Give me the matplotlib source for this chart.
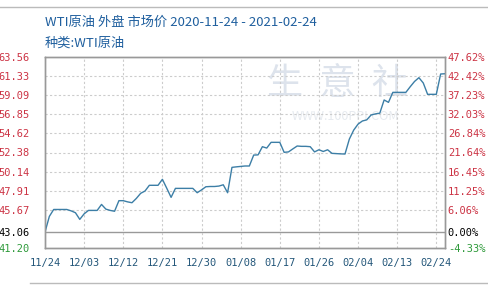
import matplotlib
matplotlib.use('Agg')
import matplotlib.pyplot as plt
import matplotlib.dates as mdates
from matplotlib.lines import Line2D
import numpy as np
import datetime as dt

plt.rcParams['font.family'] = ['Noto Sans CJK SC', 'DejaVu Sans']

# daily price, 2020-11-24 .. 2021-02-24
start = dt.date(2020, 11, 24)
prices = [
    43.06, 44.90, 45.71, 45.71, 45.71, 45.71, 45.55, 45.33, 44.55, 45.20,
    45.60, 45.60, 45.60, 46.30, 45.75, 45.60, 45.50, 46.74, 46.74, 46.60,
    46.50, 47.00, 47.60, 47.87, 48.54, 48.54, 48.54, 49.24, 48.20, 47.13,
    48.18, 48.18, 48.18, 48.18, 48.18, 47.67, 48.00, 48.37, 48.40, 48.40,
    48.45, 48.60, 47.67, 50.64, 50.70, 50.75, 50.80, 50.80, 52.08, 52.10,
    53.06, 52.90, 53.57, 53.57, 53.57, 52.40, 52.45, 52.80, 53.14, 53.10,
    53.10, 53.06, 52.45, 52.70, 52.50, 52.70, 52.28, 52.25, 52.22, 52.20,
    53.95, 55.00, 55.70, 56.07, 56.20, 56.77, 56.90, 56.98, 58.53, 58.25,
    59.42, 59.42, 59.42, 59.42, 60.08, 60.70, 61.14, 60.52, 59.19, 59.19,
    59.19, 61.57, 61.60,
]
dates = [start + dt.timedelta(days=i) for i in range(len(prices))]

base = 43.06
yticks = [63.56, 61.33, 59.09, 56.85, 54.62, 52.38, 50.14, 47.91, 45.67, 43.06, 41.20]
pct_labels = ['47.62%', '42.42%', '37.23%', '32.03%', '26.84%', '21.64%',
              '16.45%', '11.25%', '6.06%', '0.00%', '-4.33%']
xtick_labels = ['11/24', '12/03', '12/12', '12/21', '12/30', '01/08',
                '01/17', '01/26', '02/04', '02/13', '02/24']
xticks = [start + dt.timedelta(days=9 * i) for i in range(len(xtick_labels))]

fig = plt.figure(figsize=(4.88, 2.87), dpi=100)
ax = fig.add_axes([45 / 488, 1 - 248 / 287, 400 / 488, 191 / 287])

ax.set_xlim(dates[0], dates[-1])
ax.set_ylim(41.20, 63.56)

grid_kw = dict(color='#cccccc', lw=0.8, ls=(0, (2, 2)), zorder=1)
for y in yticks:
    if y == base:
        ax.axhline(y, color='#999999', lw=1.0, zorder=1)
    elif 41.2 < y < 63.56:
        ax.axhline(y, **grid_kw)
for x in xticks[1:]:
    ax.axvline(x, **grid_kw)

ax.plot(dates, prices, color='#3c7ea6', lw=1.0, zorder=3)

# watermark
ax.text(0.73, 0.86, '生  意  社', transform=ax.transAxes, fontsize=26,
        color='#dde3ec', ha='center', va='center', zorder=0)
ax.text(0.75, 0.69, 'WWW.100PPI.COM', transform=ax.transAxes, fontsize=9,
        color='#e6eaef', ha='center', va='center', zorder=0)

ax.set_yticks(yticks)
ax.set_yticklabels(['%.2f' % v for v in yticks], family='DejaVu Sans Mono', fontsize=7.5)
ax.tick_params(axis='y', length=0, pad=11)
for lab, v in zip(ax.get_yticklabels(), yticks):
    lab.set_color('#000000' if v == base else ('#2e9a3a' if v < base else '#cc3344'))

ax.set_xticks(xticks)
ax.set_xticklabels(xtick_labels, family='DejaVu Sans Mono', fontsize=7.5, color='#24577a')
ax.tick_params(axis='x', length=0, pad=7)

ax2 = ax.twinx()
ax2.set_ylim(ax.get_ylim())
ax2.set_yticks(yticks)
ax2.set_yticklabels(pct_labels, family='DejaVu Sans Mono', fontsize=7.5)
ax2.tick_params(axis='y', length=0, pad=2)
for lab, v in zip(ax2.get_yticklabels(), yticks):
    lab.set_color('#000000' if v == base else ('#2e9a3a' if v < base else '#cc3344'))

for a in (ax, ax2):
    for s in a.spines.values():
        s.set_color('#999999')
        s.set_linewidth(1.0)

fig.text(45 / 488, 1 - 22 / 287, 'WTI原油 外盘 市场价 2020-11-24 - 2021-02-24',
         fontsize=9.5, color='#1f5f9e', va='center', ha='left')
fig.text(45 / 488, 1 - 43 / 287, '种类:WTI原油',
         fontsize=9.5, color='#1f5f9e', va='center', ha='left')

fig.add_artist(Line2D([0, 1], [1 - 7 / 287, 1 - 7 / 287], color='#bbbbbb', lw=1.0))
fig.add_artist(Line2D([30 / 488, 1], [1 - 283 / 287, 1 - 283 / 287], color='#bbbbbb', lw=1.0))

fig.savefig('out.png', dpi=100)
